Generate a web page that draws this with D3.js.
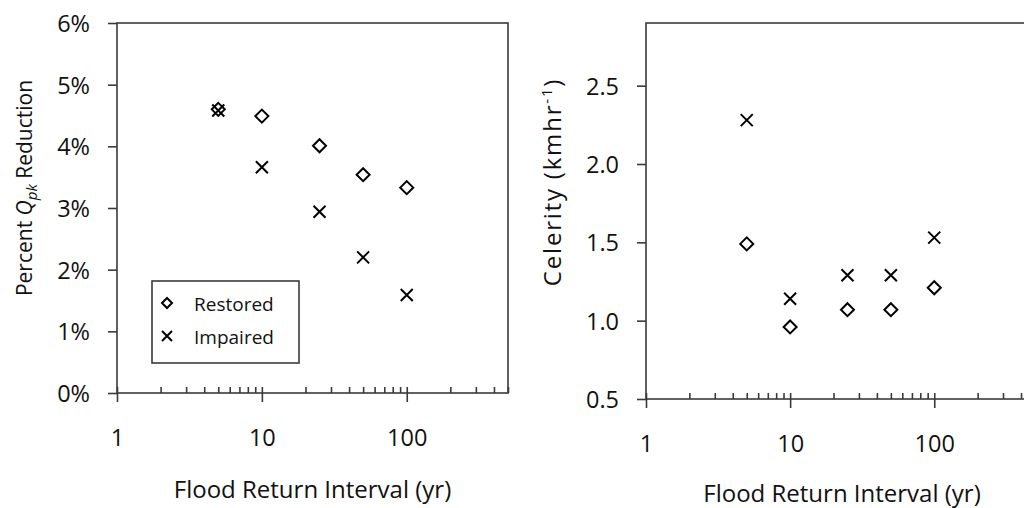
<!DOCTYPE html>
<html>
<head>
<meta charset="utf-8">
<script src="https://cdn.jsdelivr.net/npm/d3@7"></script>
<style>
  body { margin: 0; background: #fff; }
  svg text { font-family: "Open Sans", sans-serif; fill: #111; }
</style>
</head>
<body>
<div id="chart"></div>
<script>
// return intervals (yr)
var intervals = [5, 10, 25, 50, 100];

// percent Qpk reduction
var restoredQpk = [4.60, 4.49, 4.01, 3.54, 3.33];
var impairedQpk = [4.58, 3.66, 2.94, 2.20, 1.59];

// celerity (km/hr)
var restoredCel = [1.49, 0.96, 1.07, 1.07, 1.21];
var impairedCel = [2.28, 1.14, 1.29, 1.29, 1.53];

var xTickLabels = [1, 10, 100];
var pctTicks = [0, 1, 2, 3, 4, 5, 6];
var celTicks = [0.5, 1.0, 1.5, 2.0, 2.5];
var seriesNames = ["Restored", "Impaired"];

var W = 1024, H = 508;
var axisColor = "#3a3a3a";

var svg = d3.select("#chart").append("svg")
    .attr("width", W)
    .attr("height", H);

// diamond / cross marker paths
function diamond(r) {
  return "M0," + (-r) + "L" + r + ",0L0," + r + "L" + (-r) + ",0Z";
}
function cross(r) {
  return "M" + (-r) + "," + (-r) + "L" + r + "," + r + "M" + (-r) + "," + r + "L" + r + "," + (-r);
}

function drawPanel(p) {
  var g = svg.append("g");

  var x = d3.scaleLog().domain([1, 500]).range([p.left, p.left + p.width]);
  var y = d3.scaleLinear().domain(p.yDomain).range([p.bottom, p.top]);

  // frame
  g.append("rect")
    .attr("x", p.left).attr("y", p.top)
    .attr("width", p.width).attr("height", p.bottom - p.top)
    .attr("fill", "none")
    .attr("stroke", axisColor)
    .attr("stroke-width", 1.6);

  // y axis
  var yAxis = g.append("g")
    .attr("transform", "translate(" + p.left + ",0)")
    .call(d3.axisLeft(y).tickValues(p.yTicks).tickSize(9).tickPadding(18).tickFormat(p.yFormat));
  yAxis.select(".domain").remove();
  yAxis.selectAll("line").attr("stroke", axisColor).attr("stroke-width", 1.6);
  yAxis.selectAll("text").style("font-size", "23.5px").attr("dy", "0.36em");

  // x axis: all log ticks pointing inside
  var minor = g.append("g")
    .attr("transform", "translate(0," + p.bottom + ")")
    .call(d3.axisBottom(x).ticks(10).tickSize(-6).tickFormat(""));
  minor.select(".domain").remove();
  minor.selectAll("line").attr("stroke", axisColor).attr("stroke-width", 1.6);

  // x axis: decades crossing below with labels
  var major = g.append("g")
    .attr("transform", "translate(0," + p.bottom + ")")
    .call(d3.axisBottom(x).tickValues(xTickLabels).tickSize(9).tickPadding(27).tickFormat(d3.format("d")));
  major.select(".domain").remove();
  major.selectAll("line").attr("stroke", axisColor).attr("stroke-width", 1.6);
  major.selectAll("text").style("font-size", "23.5px");

  // points
  var restoredPts = intervals.map(function(d, i) { return [d, p.restored[i]]; });
  var impairedPts = intervals.map(function(d, i) { return [d, p.impaired[i]]; });

  g.selectAll(".restored")
    .data(restoredPts)
    .enter().append("path")
    .attr("class", "restored")
    .attr("transform", function(d) { return "translate(" + x(d[0]) + "," + y(d[1]) + ")"; })
    .attr("d", diamond(6.5))
    .attr("fill", "none")
    .attr("stroke", "#000")
    .attr("stroke-width", 2);

  g.selectAll(".impaired")
    .data(impairedPts)
    .enter().append("path")
    .attr("class", "impaired")
    .attr("transform", function(d) { return "translate(" + x(d[0]) + "," + y(d[1]) + ")"; })
    .attr("d", cross(6))
    .attr("fill", "none")
    .attr("stroke", "#000")
    .attr("stroke-width", 2);

  // x title
  g.append("text")
    .attr("x", p.left + (p.xTitleOffset || p.width / 2))
    .attr("y", p.xTitleY)
    .attr("text-anchor", "middle")
    .style("font-size", "24px")
    .text("Flood Return Interval (yr)");

  // y title
  var yt = g.append("text")
    .attr("transform", "translate(" + p.yTitleX + "," + p.yTitleY + ") rotate(-90)")
    .attr("text-anchor", "middle")
    .attr("dy", "0.35em");
  p.yTitle(yt);

  return { x: x, y: y, g: g };
}

var left = drawPanel({
  left: 117, width: 391, top: 23, bottom: 393,
  yDomain: [0, 6], yTicks: pctTicks,
  yFormat: function(d) { return d + "%"; },
  restored: restoredQpk, impaired: impairedQpk,
  xTitleY: 498, yTitleX: 25, yTitleY: 188,
  yTitle: function(t) {
    t.style("font-size", "21px");
    t.append("tspan").text("Percent ");
    t.append("tspan").style("font-style", "italic").text("Q");
    t.append("tspan").style("font-style", "italic").style("font-size", "15px").attr("dy", "5").text("pk");
    t.append("tspan").attr("dy", "-5").text(" Reduction");
  }
});

var right = drawPanel({
  left: 646, width: 389, top: 23, bottom: 399,
  yDomain: [0.5, 2.9], yTicks: celTicks,
  yFormat: d3.format(".1f"),
  restored: restoredCel, impaired: impairedCel,
  xTitleY: 502, xTitleOffset: 196, yTitleX: 553, yTitleY: 182,
  yTitle: function(t) {
    t.style("font-size", "24px").style("letter-spacing", "1.8px");
    t.append("tspan").text("Celerity (kmhr");
    t.append("tspan").style("font-size", "15px").attr("dy", "-9").text("-1");
    t.append("tspan").attr("dy", "9").text(")");
  }
});

// legend (left panel)
var legend = left.g.append("g");
legend.append("rect")
  .attr("x", 152).attr("y", 281)
  .attr("width", 147).attr("height", 82)
  .attr("fill", "#fff")
  .attr("stroke", axisColor)
  .attr("stroke-width", 1.6);

var legendItems = legend.selectAll(".item")
  .data(seriesNames)
  .enter().append("g")
  .attr("class", "item")
  .attr("transform", function(d, i) { return "translate(167," + (303 + i * 33) + ")"; });

legendItems.append("path")
  .attr("d", function(d, i) { return i === 0 ? diamond(5) : cross(5); })
  .attr("fill", "none")
  .attr("stroke", "#000")
  .attr("stroke-width", 2);

legendItems.append("text")
  .attr("x", 27)
  .attr("y", 8)
  .style("font-size", "19px")
  .text(function(d) { return d; });
</script>
</body>
</html>
